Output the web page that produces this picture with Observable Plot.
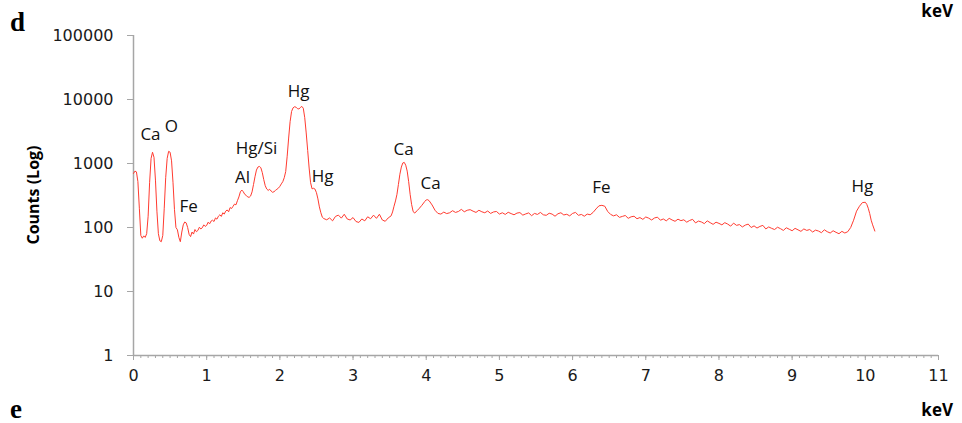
<!DOCTYPE html>
<html>
<head>
<meta charset="utf-8">
<script src="https://cdn.jsdelivr.net/npm/d3@7"></script>
<script src="https://cdn.jsdelivr.net/npm/@observablehq/plot@0.6"></script>
<style>
  html, body { margin: 0; padding: 0; background: #fff; }
  #wrap { position: relative; width: 962px; height: 423px; overflow: hidden; }
  .ann { position: absolute; white-space: nowrap; color: #000; }
  .panel { font-family: "Liberation Serif", serif; font-weight: bold; font-size: 27px; line-height: 27px; }
  .unit { font-family: "Open Sans", sans-serif; font-weight: bold; font-size: 17px; line-height: 20px; }
  .ylab { font-family: "Open Sans", sans-serif; font-weight: bold; font-size: 16px; line-height: 16px;
          transform: translate(-50%, -50%) rotate(-90deg); }
</style>
</head>
<body>
<div id="wrap"></div>
<script>
// Energy (keV) and counts
const energy = [
  0.00,0.02,0.04,0.06,0.08,0.10,0.12,0.14,0.16,0.18,0.20,0.22,0.24,0.26,0.28,0.30,0.32,0.34,0.36,0.38,
  0.40,0.42,0.44,0.46,0.48,0.50,0.52,0.54,0.56,0.58,0.60,0.62,0.64,0.66,0.68,0.70,0.72,0.74,0.76,0.78,
  0.80,0.82,0.84,0.86,0.88,0.90,0.92,0.94,0.96,0.98,1.00,1.02,1.04,1.06,1.08,1.10,1.12,1.14,1.16,1.18,
  1.20,1.22,1.24,1.26,1.28,1.30,1.32,1.34,1.36,1.38,1.40,1.42,
  1.44,1.46,1.48,1.50,1.52,1.54,1.56,1.58,
  1.60,1.62,1.64,1.66,1.68,1.70,1.72,1.74,1.76,1.78,1.80,1.82,1.84,1.86,1.88,1.90,1.92,1.94,1.96,1.98,
  2.00,2.02,2.04,2.06,2.08,2.10,2.12,2.14,2.16,2.18,2.20,2.22,2.24,2.26,2.28,2.30,2.32,2.34,2.36,2.38,
  2.40,2.42,2.44,2.46,2.48,2.50,2.52,2.54,2.56,2.58,2.60,
  2.64,2.68,2.72,2.76,2.80,2.84,2.88,2.92,2.96,3.00,3.04,3.08,3.12,3.16,3.20,3.24,3.28,3.32,3.36,3.40,
  3.44,3.48,3.52,
  3.54,3.56,3.58,3.60,3.62,3.64,3.66,3.68,3.70,3.72,3.74,3.76,3.78,3.80,3.82,3.84,3.86,3.88,3.90,
  3.94,3.98,4.00,4.02,4.04,4.08,4.12,4.16,
  4.20,4.24,4.28,4.32,4.36,4.40,4.44,4.48,4.52,4.56,4.60,4.64,4.68,4.72,4.76,4.80,4.84,4.88,4.92,4.96,
  5.00,5.04,5.08,5.12,5.16,5.20,5.24,5.28,5.32,5.36,5.40,5.44,5.48,5.52,5.56,5.60,5.64,5.68,5.72,5.76,
  5.80,5.84,5.88,5.92,5.96,6.00,6.04,6.08,6.12,6.16,6.20,6.24,6.28,
  6.32,6.36,6.40,6.44,6.48,6.52,6.56,6.60,6.64,6.68,6.72,6.76,6.80,6.84,6.88,6.92,6.96,7.00,7.04,7.08,
  7.12,7.16,7.20,7.24,7.28,7.32,7.36,7.40,7.44,7.48,7.52,7.56,7.60,7.64,7.68,7.72,7.76,7.80,7.84,7.88,
  7.92,7.96,8.00,8.04,8.08,8.12,8.16,8.20,8.24,8.28,8.32,8.36,8.40,8.44,8.48,8.52,8.56,8.60,8.64,8.68,
  8.72,8.76,8.80,8.84,8.88,8.92,8.96,9.00,9.04,9.08,9.12,9.16,9.20,9.24,9.28,9.32,9.36,9.40,9.44,9.48,
  9.52,9.56,9.60,9.64,9.68,9.72,9.76,
  9.80,9.84,9.88,9.92,9.96,10.00,10.02,10.04,10.06,10.08,10.10,10.12,10.13
];
const counts = [
  700,760,740,520,200,75,68,74,70,80,150,500,1200,1500,1250,550,180,80,62,60,
  75,200,600,1200,1550,1500,1100,500,190,100,92,70,60,85,110,122,118,100,78,72,
  85,79,93,86,90,101,95,99,110,104,108,121,114,126,130,124,141,135,150,158,
  149,170,162,180,188,176,205,198,214,232,226,262,
  300,360,385,362,330,318,300,296,
  310,360,470,620,790,880,900,860,720,560,450,400,380,395,372,355,362,380,396,412,
  440,480,520,600,750,1300,2500,4500,6500,7400,7700,7600,7200,7100,7500,7800,7300,5200,3000,1600,
  850,500,402,410,398,350,280,210,170,145,138,
  132,141,127,149,156,140,161,136,131,143,124,120,136,127,147,137,156,139,161,131,
  125,141,152,
  175,215,260,330,470,680,880,1020,1040,940,760,520,330,230,180,168,175,186,196,
  222,255,270,272,262,225,186,166,
  162,174,165,170,183,172,178,192,176,186,190,180,172,186,176,170,181,166,175,178,
  162,170,160,173,165,158,168,171,156,163,169,153,166,160,172,158,155,167,162,150,
  164,170,157,161,152,166,172,155,160,150,162,158,172,
  195,218,222,215,178,160,152,158,144,149,154,139,147,150,137,143,134,146,140,131,
  141,145,130,136,127,139,131,125,135,128,132,121,129,134,118,126,122,115,127,119,
  112,121,116,110,119,113,105,117,108,111,102,109,113,100,106,98,104,108,95,102,
  97,93,101,96,90,99,94,89,97,92,87,95,90,93,85,91,88,83,92,86,
  82,89,84,80,87,82,86,
  100,130,180,215,245,248,230,200,165,130,110,95,88
];
const spectrum = energy.map((e, i) => ({keV: e, counts: counts[i]}));

// Peak labels
const peakLabels = ["Ca","O","Fe","Al","Hg/Si","Hg","Hg","Ca","Ca","Fe","Hg"];
const labelKeV   = [0.232,0.519,0.752,1.49,1.68,2.255,2.583,3.69,4.06,6.395,9.96];
const labelCounts= [2838,3786,213,604,1715,13335,626,1656,487,422,437];
const labels = peakLabels.map((t, i) => ({text: t, keV: labelKeV[i], counts: labelCounts[i]}));

// Axis ticks
const xTicks = [0,1,2,3,4,5,6,7,8,9,10,11];
const yTicks = [1,10,100,1000,10000,100000];
const xMinor = d3.range(0, 110.5, 1).map(d => d / 10);

const axisGray = "#a6a6a6";
const tickFont = "DejaVu Sans, sans-serif";

const chart = Plot.plot({
  width: 962,
  height: 423,
  marginLeft: 133,
  marginRight: 24,
  marginTop: 35,
  marginBottom: 68,
  style: {background: "#fff", fontFamily: tickFont},
  x: {domain: [0, 11], label: null},
  y: {type: "log", domain: [1, 100000], label: null},
  marks: [
    Plot.axisX({ticks: xMinor, tickSize: 3, text: null, stroke: axisGray, strokeWidth: 1, strokeOpacity: 1}),
    Plot.axisX({ticks: xTicks, tickSize: 5, text: null, stroke: axisGray, strokeWidth: 1, strokeOpacity: 1}),
    Plot.axisX({ticks: xTicks, tickSize: 0, tickPadding: 14, fontSize: 16, fill: "#1a1a1a", label: null}),
    Plot.axisY({ticks: yTicks, tickSize: 6, text: null, stroke: axisGray, strokeWidth: 1, strokeOpacity: 1}),
    Plot.axisY({ticks: yTicks, tickSize: 0, tickPadding: 20, fontSize: 16, fill: "#1a1a1a",
                tickFormat: d3.format("d"), label: null}),
    Plot.ruleX([0], {stroke: axisGray, strokeWidth: 1.5}),
    Plot.ruleY([1], {stroke: axisGray, strokeWidth: 1.5}),
    Plot.line(spectrum, {x: "keV", y: "counts", stroke: "#ff3b30", strokeWidth: 1}),
    Plot.text(labels, {x: "keV", y: "counts", text: "text", fontSize: 17,
                       fontFamily: "Open Sans, sans-serif", fill: "#111"})
  ]
});

const wrap = document.getElementById("wrap");
chart.style.position = "absolute";
chart.style.left = "0px";
chart.style.top = "0px";
wrap.appendChild(chart);

function ann(cls, text, css) {
  const el = document.createElement("div");
  el.className = "ann " + cls;
  el.textContent = text;
  Object.assign(el.style, css);
  wrap.appendChild(el);
}
ann("panel", "d", {left: "10px", top: "9px"});
ann("unit", "keV", {right: "9px", top: "1px"});
ann("ylab", "Counts (Log)", {left: "33px", top: "195px"});
ann("unit", "keV", {right: "9px", top: "400px"});
ann("panel", "e", {left: "10px", top: "396px"});
</script>
</body>
</html>
